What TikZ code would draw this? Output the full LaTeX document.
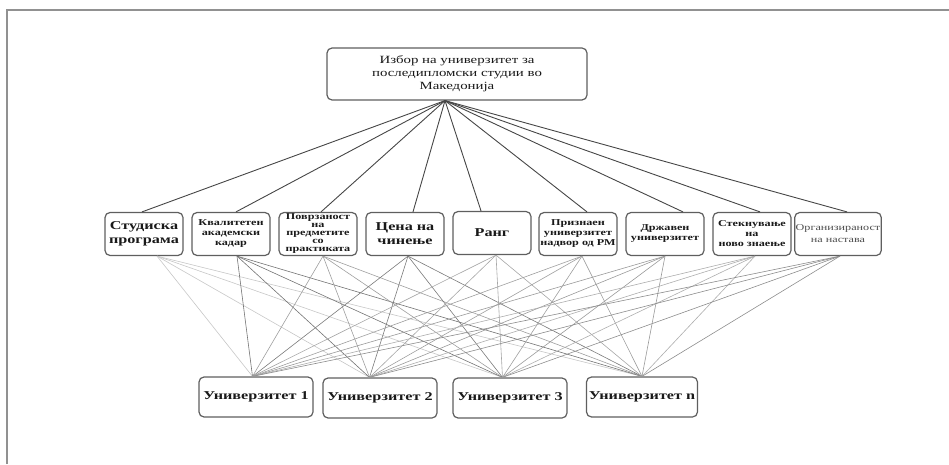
\documentclass[tikz,border=0pt]{standalone}
\usepackage{fontspec}
\setmainfont{Liberation Serif}[FakeStretch=1.35]
\usetikzlibrary{calc}
\definecolor{framegray}{RGB}{145,145,145}
\definecolor{boxgray}{RGB}{95,95,95}
\definecolor{linkgray}{RGB}{70,70,70}
\tikzset{
  box/.style={draw=boxgray,line width=1.2pt,rounded corners=5pt,fill=white,
              align=center,inner sep=1pt,text=black!90},
  goalbox/.style={box,minimum width=260pt,minimum height=52pt,font=\fontsize{11}{13}\selectfont},
  critbox/.style={box,minimum width=78pt,minimum height=43pt,font=\bfseries\fontsize{9}{10}\selectfont},
  bigcrit/.style={critbox,font=\bfseries\fontsize{12}{14}\selectfont},
  altbox/.style={box,minimum width=114pt,minimum height=40pt,font=\bfseries\fontsize{12}{14}\selectfont},
  link/.style={linkgray,line width=0.9pt},
  tie/.style={line width=0.6pt},
}

\begin{document}
\begin{tikzpicture}[x=1pt,y=1pt]
  \path[use as bounding box] (0,0) rectangle (949,464);
  \draw[framegray,line width=1.5pt] (7,0) -- (7,454) -- (949,454);

  \node[goalbox] (goal) at (457,390)
    {Избор на универзитет за\\последипломски студии во\\Македонија};

  % criteria
  \node[bigcrit] (crit1) at (144,230) {Студиска\\програма};
  \node[critbox] (crit2) at (231,230) {Квалитетен\\академски\\кадар};
  \node[critbox,font=\bfseries\fontsize{9}{8}\selectfont] (crit3) at (318,230)
    {Поврзаност\\на\\предметите\\со\\практиката};
  \node[bigcrit] (crit4) at (405,230) {Цена на\\чинење};
  \node[bigcrit] (crit5) at (492,231) {Ранг};
  \node[critbox] (crit6) at (578,230) {Признаен\\универзитет\\надвор од РМ};
  \node[critbox] (crit7) at (665,230) {Државен\\универзитет};
  \node[critbox] (crit8) at (752,230) {Стекнување\\на\\ново знаење};
  \node[critbox,font=\fontsize{9}{12}\selectfont,text=black!70] (crit9) at (838,230)
    {Организираност\\на настава};

  % alternatives
  \node[altbox] (alt1) at (256,67) {Универзитет 1};
  \node[altbox] (alt2) at (380,66) {Универзитет 2};
  \node[altbox] (alt3) at (510,66) {Универзитет 3};
  \node[altbox,minimum width=111pt] (alt4) at (642,67) {Универзитет n};

  \foreach \i/\dx in {1/-2pt,2/5pt,3/3pt,4/8pt,5/-11pt,6/9pt,7/18pt,8/8pt,9/9pt}
    \draw[link] ([xshift=-12pt]goal.south) -- ([xshift=\dx]crit\i.north);

  \foreach \i/\dx/\tone in {1/13pt/22,2/6pt/55,3/5pt/38,4/3pt/52,5/4pt/35,
                            6/4pt/38,7/0pt/40,8/3pt/32,9/2pt/45}
    \foreach \j/\dy in {1/-3.5pt,2/-10.5pt,3/-7.5pt,4/0pt}
      \draw[tie,black!\tone] ([xshift=\dx]crit\i.south) -- ([xshift=\dy]alt\j.north);
\end{tikzpicture}
\end{document}
